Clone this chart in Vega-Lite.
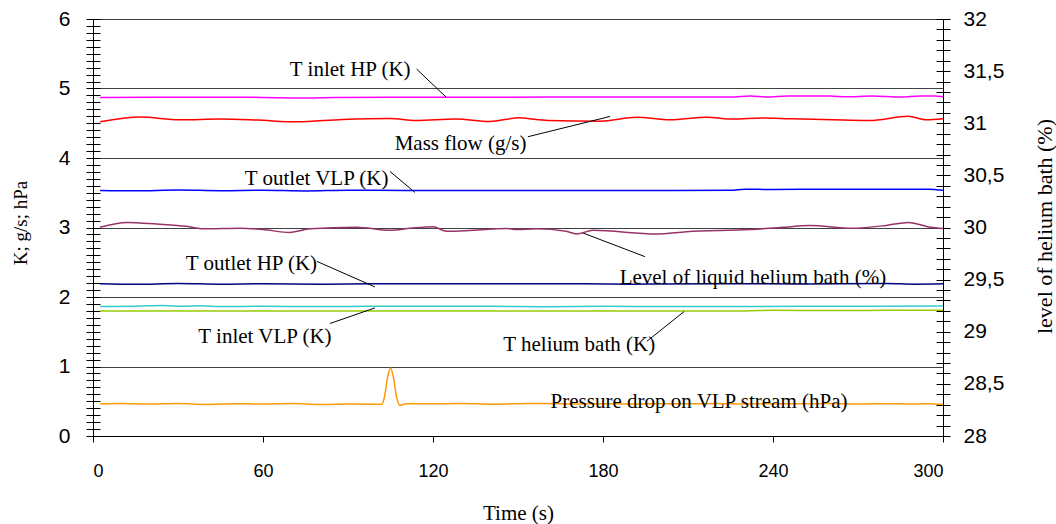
{
  "$schema": "https://vega.github.io/schema/vega-lite/v6.json",
  "width": 850,
  "height": 417,
  "autosize": {"type": "none"},
  "padding": {"left": 93, "top": 19, "right": 113, "bottom": 88},
  "background": "white",
  "config": {
    "view": {"stroke": "black", "strokeWidth": 1},
    "axis": {"tickColor": "black", "domainColor": "black", "labelColor": "black", "titleColor": "black", "titleFontWeight": "normal", "labelOverlap": false}
  },
  "datasets": {
    "series": [
      {"s": "T inlet HP", "t": 2.5, "v": 4.872}, {"s": "T inlet HP", "t": 20, "v": 4.874}, {"s": "T inlet HP", "t": 40, "v": 4.875}, {"s": "T inlet HP", "t": 60, "v": 4.872}, {"s": "T inlet HP", "t": 75, "v": 4.862}, {"s": "T inlet HP", "t": 85, "v": 4.872}, {"s": "T inlet HP", "t": 120, "v": 4.875}, {"s": "T inlet HP", "t": 160, "v": 4.876}, {"s": "T inlet HP", "t": 200, "v": 4.876}, {"s": "T inlet HP", "t": 225, "v": 4.878}, {"s": "T inlet HP", "t": 232, "v": 4.893}, {"s": "T inlet HP", "t": 238, "v": 4.878}, {"s": "T inlet HP", "t": 245, "v": 4.893}, {"s": "T inlet HP", "t": 260, "v": 4.892}, {"s": "T inlet HP", "t": 266, "v": 4.88}, {"s": "T inlet HP", "t": 275, "v": 4.893}, {"s": "T inlet HP", "t": 285, "v": 4.878}, {"s": "T inlet HP", "t": 292, "v": 4.893}, {"s": "T inlet HP", "t": 297, "v": 4.893}, {"s": "T inlet HP", "t": 300, "v": 4.88},
      {"s": "Mass flow", "t": 2.5, "v": 4.522}, {"s": "Mass flow", "t": 16.6, "v": 4.59}, {"s": "Mass flow", "t": 30.7, "v": 4.55}, {"s": "Mass flow", "t": 45, "v": 4.56}, {"s": "Mass flow", "t": 58, "v": 4.545}, {"s": "Mass flow", "t": 71.9, "v": 4.52}, {"s": "Mass flow", "t": 88, "v": 4.555}, {"s": "Mass flow", "t": 104.8, "v": 4.57}, {"s": "Mass flow", "t": 114, "v": 4.54}, {"s": "Mass flow", "t": 128, "v": 4.56}, {"s": "Mass flow", "t": 140, "v": 4.525}, {"s": "Mass flow", "t": 150.7, "v": 4.58}, {"s": "Mass flow", "t": 154, "v": 4.565}, {"s": "Mass flow", "t": 160.6, "v": 4.54}, {"s": "Mass flow", "t": 179, "v": 4.53}, {"s": "Mass flow", "t": 192, "v": 4.585}, {"s": "Mass flow", "t": 203.6, "v": 4.55}, {"s": "Mass flow", "t": 216.6, "v": 4.585}, {"s": "Mass flow", "t": 226, "v": 4.56}, {"s": "Mass flow", "t": 236, "v": 4.575}, {"s": "Mass flow", "t": 246, "v": 4.565}, {"s": "Mass flow", "t": 261, "v": 4.55}, {"s": "Mass flow", "t": 274, "v": 4.54}, {"s": "Mass flow", "t": 287.6, "v": 4.6}, {"s": "Mass flow", "t": 294, "v": 4.55}, {"s": "Mass flow", "t": 300, "v": 4.565},
      {"s": "T outlet VLP", "t": 2.5, "v": 3.534}, {"s": "T outlet VLP", "t": 15, "v": 3.528}, {"s": "T outlet VLP", "t": 30, "v": 3.54}, {"s": "T outlet VLP", "t": 45, "v": 3.53}, {"s": "T outlet VLP", "t": 60, "v": 3.536}, {"s": "T outlet VLP", "t": 75, "v": 3.526}, {"s": "T outlet VLP", "t": 90, "v": 3.536}, {"s": "T outlet VLP", "t": 110, "v": 3.534}, {"s": "T outlet VLP", "t": 150, "v": 3.534}, {"s": "T outlet VLP", "t": 200, "v": 3.534}, {"s": "T outlet VLP", "t": 225, "v": 3.536}, {"s": "T outlet VLP", "t": 230, "v": 3.552}, {"s": "T outlet VLP", "t": 240, "v": 3.546}, {"s": "T outlet VLP", "t": 260, "v": 3.552}, {"s": "T outlet VLP", "t": 280, "v": 3.552}, {"s": "T outlet VLP", "t": 295, "v": 3.552}, {"s": "T outlet VLP", "t": 300, "v": 3.535},
      {"s": "T outlet HP", "t": 2.5, "v": 2.19}, {"s": "T outlet HP", "t": 15, "v": 2.182}, {"s": "T outlet HP", "t": 30, "v": 2.195}, {"s": "T outlet HP", "t": 45, "v": 2.185}, {"s": "T outlet HP", "t": 60, "v": 2.192}, {"s": "T outlet HP", "t": 80, "v": 2.185}, {"s": "T outlet HP", "t": 100, "v": 2.19}, {"s": "T outlet HP", "t": 130, "v": 2.19}, {"s": "T outlet HP", "t": 160, "v": 2.192}, {"s": "T outlet HP", "t": 190, "v": 2.185}, {"s": "T outlet HP", "t": 220, "v": 2.19}, {"s": "T outlet HP", "t": 250, "v": 2.188}, {"s": "T outlet HP", "t": 280, "v": 2.196}, {"s": "T outlet HP", "t": 290, "v": 2.185}, {"s": "T outlet HP", "t": 300, "v": 2.19},
      {"s": "T inlet VLP", "t": 2.5, "v": 1.862}, {"s": "T inlet VLP", "t": 15, "v": 1.868}, {"s": "T inlet VLP", "t": 25, "v": 1.878}, {"s": "T inlet VLP", "t": 32, "v": 1.866}, {"s": "T inlet VLP", "t": 38, "v": 1.875}, {"s": "T inlet VLP", "t": 45, "v": 1.862}, {"s": "T inlet VLP", "t": 60, "v": 1.866}, {"s": "T inlet VLP", "t": 80, "v": 1.862}, {"s": "T inlet VLP", "t": 100, "v": 1.866}, {"s": "T inlet VLP", "t": 140, "v": 1.866}, {"s": "T inlet VLP", "t": 160, "v": 1.86}, {"s": "T inlet VLP", "t": 180, "v": 1.866}, {"s": "T inlet VLP", "t": 220, "v": 1.862}, {"s": "T inlet VLP", "t": 250, "v": 1.866}, {"s": "T inlet VLP", "t": 280, "v": 1.866}, {"s": "T inlet VLP", "t": 295, "v": 1.87}, {"s": "T inlet VLP", "t": 300, "v": 1.875},
      {"s": "T helium bath", "t": 2.5, "v": 1.8}, {"s": "T helium bath", "t": 60, "v": 1.8}, {"s": "T helium bath", "t": 120, "v": 1.8}, {"s": "T helium bath", "t": 180, "v": 1.8}, {"s": "T helium bath", "t": 230, "v": 1.8}, {"s": "T helium bath", "t": 240, "v": 1.808}, {"s": "T helium bath", "t": 260, "v": 1.805}, {"s": "T helium bath", "t": 280, "v": 1.808}, {"s": "T helium bath", "t": 300, "v": 1.808},
      {"s": "Pressure drop", "t": 2.5, "v": 0.463}, {"s": "Pressure drop", "t": 10, "v": 0.468}, {"s": "Pressure drop", "t": 20, "v": 0.46}, {"s": "Pressure drop", "t": 30, "v": 0.468}, {"s": "Pressure drop", "t": 40, "v": 0.455}, {"s": "Pressure drop", "t": 50, "v": 0.465}, {"s": "Pressure drop", "t": 60, "v": 0.46}, {"s": "Pressure drop", "t": 70, "v": 0.468}, {"s": "Pressure drop", "t": 80, "v": 0.455}, {"s": "Pressure drop", "t": 90, "v": 0.462}, {"s": "Pressure drop", "t": 100, "v": 0.458}, {"s": "Pressure drop", "t": 101.9, "v": 0.455}, {"s": "Pressure drop", "t": 102.8, "v": 0.55}, {"s": "Pressure drop", "t": 104, "v": 0.85}, {"s": "Pressure drop", "t": 105, "v": 0.98}, {"s": "Pressure drop", "t": 106, "v": 0.85}, {"s": "Pressure drop", "t": 107.2, "v": 0.55}, {"s": "Pressure drop", "t": 108.4, "v": 0.44}, {"s": "Pressure drop", "t": 110.5, "v": 0.465}, {"s": "Pressure drop", "t": 120, "v": 0.463}, {"s": "Pressure drop", "t": 130, "v": 0.468}, {"s": "Pressure drop", "t": 140, "v": 0.458}, {"s": "Pressure drop", "t": 150, "v": 0.465}, {"s": "Pressure drop", "t": 160, "v": 0.468}, {"s": "Pressure drop", "t": 170, "v": 0.46}, {"s": "Pressure drop", "t": 180, "v": 0.465}, {"s": "Pressure drop", "t": 190, "v": 0.46}, {"s": "Pressure drop", "t": 200, "v": 0.465}, {"s": "Pressure drop", "t": 210, "v": 0.463}, {"s": "Pressure drop", "t": 220, "v": 0.468}, {"s": "Pressure drop", "t": 230, "v": 0.46}, {"s": "Pressure drop", "t": 240, "v": 0.465}, {"s": "Pressure drop", "t": 250, "v": 0.463}, {"s": "Pressure drop", "t": 260, "v": 0.468}, {"s": "Pressure drop", "t": 270, "v": 0.46}, {"s": "Pressure drop", "t": 280, "v": 0.465}, {"s": "Pressure drop", "t": 290, "v": 0.46}, {"s": "Pressure drop", "t": 295, "v": 0.465}, {"s": "Pressure drop", "t": 300, "v": 0.455}
    ],
    "level": [
      {"t": 2.5, "L": 30.002}, {"t": 12, "L": 30.049}, {"t": 22.5, "L": 30.033}, {"t": 33, "L": 30.011}, {"t": 39, "L": 29.987}, {"t": 52, "L": 29.993}, {"t": 60, "L": 29.98}, {"t": 69.5, "L": 29.953}, {"t": 76.6, "L": 29.987}, {"t": 93, "L": 30.002}, {"t": 104.8, "L": 29.973}, {"t": 112, "L": 29.993}, {"t": 120, "L": 30.008}, {"t": 124.8, "L": 29.963}, {"t": 134, "L": 29.973}, {"t": 146, "L": 29.99}, {"t": 149.5, "L": 29.98}, {"t": 156.6, "L": 29.987}, {"t": 167, "L": 29.963}, {"t": 170.7, "L": 29.938}, {"t": 176.5, "L": 29.973}, {"t": 199, "L": 29.938}, {"t": 209.4, "L": 29.96}, {"t": 232, "L": 29.98}, {"t": 243.5, "L": 30.002}, {"t": 253, "L": 30.018}, {"t": 268, "L": 29.993}, {"t": 280, "L": 30.02}, {"t": 287.8, "L": 30.049}, {"t": 295.6, "L": 30.002}, {"t": 300, "L": 29.99}
    ],
    "labels": [
      {"label": "T inlet HP (K)", "t": 112.1, "v": 5.173, "a": "right"},
      {"label": "Mass flow (g/s)", "t": 153.0, "v": 4.109, "a": "right"},
      {"label": "T outlet VLP (K)", "t": 104.3, "v": 3.616, "a": "right"},
      {"label": "T outlet HP (K)", "t": 79.1, "v": 2.384, "a": "right"},
      {"label": "Level of liquid helium bath (%)", "t": 232.9, "v": 2.193, "a": "center"},
      {"label": "T inlet VLP (K)", "t": 84.2, "v": 1.34, "a": "right"},
      {"label": "T helium bath (K)", "t": 198.4, "v": 1.219, "a": "right"},
      {"label": "Pressure drop on VLP stream (hPa)", "t": 213.9, "v": 0.405, "a": "center"}
    ],
    "leaders": [
      {"t": 114.2, "v": 5.28, "t2": 124.6, "v2": 4.877},
      {"t": 153.5, "v": 4.306, "t2": 182.5, "v2": 4.598},
      {"t": 104.8, "v": 3.807, "t2": 113.6, "v2": 3.505},
      {"t": 79.0, "v": 2.513, "t2": 99.5, "v2": 2.145},
      {"t": 194.8, "v": 2.581, "t2": 172.6, "v2": 2.926},
      {"t": 83.6, "v": 1.618, "t2": 99.5, "v2": 1.843},
      {"t": 195.5, "v": 1.363, "t2": 208.6, "v2": 1.79}
    ]
  },
  "layer": [
    {
      "encoding": {
        "x": {"field": "t", "type": "quantitative", "scale": {"domain": [0, 300], "nice": false, "zero": false},
          "axis": {"title": "Time (s)", "values": [0, 60, 120, 180, 240, 300], "tickSize": 6, "grid": false, "labelFont": "Liberation Sans", "labelFontSize": 18, "labelPadding": 20, "titleFont": "Liberation Serif", "titleFontSize": 21, "titleBaseline": "alphabetic", "titleY": 83}},
        "y": {"field": "v", "type": "quantitative", "scale": {"domain": [0, 6], "nice": false, "zero": false},
          "axis": {"title": "K; g/s; hPa", "orient": "left", "offset": -7, "domain": false, "tickSize": 14,
            "values": [0,0.1,0.2,0.3,0.4,0.5,0.6,0.7,0.8,0.9,1,1.1,1.2,1.3,1.4,1.5,1.6,1.7,1.8,1.9,2,2.1,2.2,2.3,2.4,2.5,2.6,2.7,2.8,2.9,3,3.1,3.2,3.3,3.4,3.5,3.6,3.7,3.8,3.9,4,4.1,4.2,4.3,4.4,4.5,4.6,4.7,4.8,4.9,5,5.1,5.2,5.3,5.4,5.5,5.6,5.7,5.8,5.9,6],
            "labelExpr": "datum.value % 1 === 0 ? format(datum.value, 'd') : ''",
            "labelFont": "Liberation Sans", "labelFontSize": 21, "labelPadding": 16,
            "grid": true, "gridColor": "#404040", "gridWidth": 1,
            "gridOpacity": {"condition": {"test": "datum.value % 1 === 0", "value": 1}, "value": 0},
            "titleFont": "Liberation Serif", "titleFontSize": 19, "titleAngle": -90, "titleAlign": "center", "titleBaseline": "middle", "titleX": -80, "titleY": 203.5}}
      },
      "layer": [
        {
          "data": {"name": "series"},
          "mark": {"type": "line", "strokeWidth": 1.5, "interpolate": "monotone"},
          "encoding": {
            "color": {"field": "s", "type": "nominal", "legend": null,
              "scale": {"domain": ["T inlet HP", "Mass flow", "T outlet VLP", "T outlet HP", "T inlet VLP", "T helium bath", "Pressure drop"],
                "range": ["#FF00FF", "#FF0000", "#0000FF", "#000080", "#33CCCC", "#99CC00", "#FF9900"]}}
          }
        },
        {
          "data": {"name": "leaders"},
          "mark": {"type": "rule", "color": "black", "strokeWidth": 1},
          "encoding": {"x2": {"field": "t2"}, "y2": {"field": "v2"}}
        },
        {
          "data": {"name": "labels"},
          "transform": [{"filter": "datum.a === 'right'"}],
          "mark": {"type": "text", "font": "Liberation Serif", "fontSize": 21, "align": "right", "baseline": "alphabetic", "color": "black"},
          "encoding": {"text": {"field": "label", "type": "nominal"}}
        },
        {
          "data": {"name": "labels"},
          "transform": [{"filter": "datum.a === 'center'"}],
          "mark": {"type": "text", "font": "Liberation Serif", "fontSize": 21, "align": "center", "baseline": "alphabetic", "color": "black"},
          "encoding": {"text": {"field": "label", "type": "nominal"}}
        }
      ]
    },
    {
      "data": {"name": "level"},
      "mark": {"type": "line", "strokeWidth": 1.5, "color": "#993366", "interpolate": "monotone"},
      "encoding": {
        "x": {"field": "t", "type": "quantitative", "scale": {"domain": [0, 300], "nice": false, "zero": false}},
        "y": {"field": "L", "type": "quantitative", "scale": {"domain": [28, 32], "nice": false, "zero": false},
          "axis": {"title": "level of helium bath (%)", "orient": "right", "offset": -7, "domain": false, "tickSize": 14,
            "values": [28,28.1,28.2,28.3,28.4,28.5,28.6,28.7,28.8,28.9,29,29.1,29.2,29.3,29.4,29.5,29.6,29.7,29.8,29.9,30,30.1,30.2,30.3,30.4,30.5,30.6,30.7,30.8,30.9,31,31.1,31.2,31.3,31.4,31.5,31.6,31.7,31.8,31.9,32],
            "labelExpr": "datum.value % 0.5 === 0 ? replace(format(datum.value, '~g'), '.', ',') : ''",
            "labelFont": "Liberation Sans", "labelFontSize": 21, "labelPadding": 13, "grid": false,
            "titleFont": "Liberation Serif", "titleFontSize": 22, "titleAngle": -90, "titleAlign": "center", "titleBaseline": "middle", "titleX": 108, "titleY": 207}}
      }
    }
  ],
  "resolve": {"scale": {"y": "independent"}, "axis": {"y": "independent"}}
}
